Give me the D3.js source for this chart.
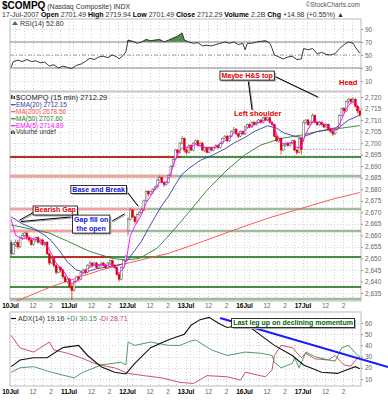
<!DOCTYPE html>
<html>
<head>
<meta charset="utf-8">
<script src="https://cdn.jsdelivr.net/npm/d3@7/dist/d3.min.js"></script>
<style>
body { margin: 0; background: #fff; }
text { font-family: "Liberation Sans", Arial, sans-serif; }
</style>
</head>
<body>
<svg id="chart" width="388" height="400"></svg>
<script>
// ---------------- data ----------------
var xTicks = [0, 10, 18, 26, 36, 44, 52, 62, 70, 78, 88, 96, 104, 114, 122, 130, 140, 148];
var xTickLabels = ["10Jul", "12", "2", "11Jul", "12", "2", "12Jul", "12", "2", "13Jul", "12", "2", "16Jul", "12", "2", "17Jul", "12", "2"];

// 15 min bars, 26 per day
var opens = [
 2657,2652,2656,2657,2655,2659,2660,2661,2659,2658,2656,2658,2659,2657,2658,2656,2657,2652,2648,2650,2647,2644,2646,2645,2642,2640,
 2641,2638,2636,2640,2642,2641,2644,2645,2644,2647,2648,2647,2648,2646,2647,2648,2647,2646,2648,2649,2647,2646,2643,2641,2646,2649,
 2662,2667,2671,2668,2666,2669,2670,2671,2675,2679,2678,2679,2680,2681,2684,2685,2683,2682,2683,2686,2690,2693,2697,2696,2700,2702,
 2697,2696,2699,2697,2700,2701,2699,2700,2697,2698,2696,2698,2697,2698,2699,2698,2700,2702,2703,2701,2703,2705,2706,2704,2703,2705,
 2704,2707,2708,2707,2709,2708,2709,2710,2709,2711,2710,2711,2709,2708,2703,2701,2702,2697,2699,2700,2699,2700,2701,2697,2696,2702,
 2701.49,2709,2710,2708,2709,2712,2709,2708,2709,2708,2707,2708,2706,2705,2704,2706,2707,2712,2715,2714,2718,2719,2718,2719,2716,2714];
var highs = [
 2658,2657,2658,2658,2659.5,2661,2661.5,2661.5,2660,2659,2658.5,2659.5,2659.5,2658.5,2658.5,2657.5,2657.5,2652.5,2650.5,2650.5,2647.5,2646.5,2646.5,2645.5,2643,2641.5,
 2641.5,2639,2640.5,2642.5,2642.5,2644.5,2645.5,2645.5,2647.5,2649,2648.5,2648.5,2648.5,2647.5,2648.5,2648.5,2647.5,2648.5,2649.5,2649.5,2647.5,2646.5,2643.5,2646.5,2649.5,2651.5,
 2668,2672,2671.5,2668.5,2669.5,2670.5,2672,2675.5,2679.5,2679.5,2679.5,2680.5,2681.5,2684.5,2686,2685.5,2683.5,2683.5,2686.5,2690.5,2693.5,2697.5,2697.5,2700.5,2703,2702.5,
 2698,2699.5,2699.5,2700.5,2701.5,2701.5,2700.5,2700.5,2698.5,2698.5,2698.5,2698.5,2698.5,2699.5,2699.5,2700.5,2702.5,2703.5,2703.5,2703.5,2705.5,2707,2706.5,2704.5,2705.5,2705.5,
 2707.5,2708.5,2708.5,2709.5,2709.5,2709.5,2710.5,2710.5,2711.5,2711.5,2711.5,2711.5,2709.5,2708.5,2703.5,2702.5,2702.5,2699.5,2700.5,2700.5,2700.5,2701.5,2701.5,2697.5,2702.5,2702.5,
 2710,2710.5,2710.5,2709.5,2713,2712.5,2709.5,2709.5,2709.5,2708.5,2708.5,2708.5,2706.5,2705.5,2706.5,2707.5,2712.5,2715.5,2715.5,2718.5,2719.5,2719.5,2719.94,2719.5,2716.5,2714.5];
var lows = [
 2651,2651.5,2655,2654,2654.5,2658,2659,2658,2657,2655.5,2655.5,2657,2656.5,2656,2655.5,2655,2651.5,2647,2647.5,2646,2643,2643.5,2644,2641,2639.5,2639,
 2637,2632,2635.5,2639.5,2640,2640.5,2643,2643,2643.5,2646,2646,2646.5,2645.5,2645.5,2646.5,2646.5,2645.5,2645.5,2647.5,2646.5,2645.5,2642.5,2640,2640.5,2645.5,2648.5,
 2660,2666.5,2667.5,2665,2665.5,2668.5,2669.5,2670.5,2674.5,2677,2677.5,2678,2679.5,2680.5,2683.5,2682.5,2681,2681.5,2682.5,2685.5,2689.5,2692.5,2695,2695.5,2699.5,2696,
 2695,2695.5,2696.5,2696.5,2699.5,2698.5,2698.5,2696.5,2696,2695.5,2695.5,2696.5,2696.5,2697.5,2697.5,2697.5,2699.5,2701.5,2700.5,2700.5,2702.5,2704.5,2703.5,2702,2702.5,2703.5,
 2703.5,2706.5,2706.5,2706.5,2707.5,2707.5,2708.5,2708.5,2708.5,2709.5,2709.5,2708.5,2707.5,2702.5,2700.5,2700,2695,2696.5,2698.5,2698.5,2698.5,2699.5,2696.5,2695,2695.5,2695,
 2700.5,2708,2707.5,2707.5,2708.5,2708.5,2707.5,2707.5,2707.5,2706.5,2706.5,2705.5,2704.5,2703,2703.5,2705.5,2706.5,2711.5,2713,2713.5,2717,2717,2717.5,2715.5,2713,2711.5];
var closes = [
 2652,2656,2657,2655,2659,2660,2661,2659,2658,2656,2658,2659,2657,2658,2656,2657,2652,2648,2650,2647,2644,2646,2645,2642,2640,2641,
 2638,2636,2640,2642,2641,2644,2645,2644,2647,2648,2647,2648,2646,2647,2648,2647,2646,2648,2649,2647,2646,2643,2641,2646,2649,2651,
 2667,2671,2668,2666,2669,2670,2671,2675,2679,2678,2679,2680,2681,2684,2685,2683,2682,2683,2686,2690,2693,2697,2696,2700,2702,2697,
 2696,2699,2697,2700,2701,2699,2700,2697,2698,2696,2698,2697,2698,2699,2698,2700,2702,2703,2701,2703,2705,2706,2704,2703,2705,2704,
 2707,2708,2707,2709,2708,2709,2710,2709,2711,2710,2711,2709,2708,2703,2701,2702,2697,2699,2700,2699,2700,2701,2697,2696,2702,2697.31,
 2709,2710,2708,2709,2712,2709,2708,2709,2708,2707,2708,2706,2705,2704,2706,2707,2712,2715,2714,2718,2719,2718,2719,2716,2714,2712.29];

// overlays: [bar, value]
var ema5 = [[0,2667],[2,2660],[5,2658.5],[8,2659],[11,2658.3],[14,2657.3],[16,2655.5],[18,2652],[20,2648],[23,2645],[25,2642],[27,2639],[29,2640],[31,2642.5],[34,2645.5],[37,2647.3],[40,2647.3],[43,2647],[45,2647.5],[48,2643.5],[50,2646],[51,2648],[52,2654],[53,2660],[55,2664],[58,2669],[60,2674],[63,2678.5],[66,2683],[69,2683],[71,2687],[73,2693],[75,2697],[77,2698.5],[79,2698],[82,2699.5],[85,2698.5],[88,2697.5],[91,2698.3],[94,2700.5],[97,2702],[99,2704.5],[101,2704],[103,2704.5],[105,2706.5],[108,2708],[111,2709.3],[114,2710.3],[116,2709],[118,2704],[120,2700],[122,2699.5],[125,2700.3],[127,2698],[129,2698.5],[130,2702],[132,2706],[134,2709.5],[137,2709],[140,2708],[143,2705.5],[145,2706],[147,2710.5],[149,2715],[151,2717.5],[153,2717.5],[155,2714.89]];
var ema20 = [[0,2668],[5,2665],[10,2663],[15,2660],[18,2657.5],[21,2654],[25,2648.5],[29,2645],[33,2644],[38,2645.5],[44,2646.5],[49,2647.5],[52,2649.5],[55,2653.5],[58,2657.5],[61,2663],[64,2668],[67,2673],[70,2677],[73,2682],[76,2686.5],[79,2689],[84,2692.5],[90,2695],[95,2697.5],[99,2700],[104,2702.5],[108,2705],[114,2707.5],[118,2706.5],[121,2704.5],[126,2703],[129,2702.5],[132,2703.5],[136,2705],[141,2706],[146,2707],[150,2710],[155,2712.15]];
var ma50 = [[0,2664.5],[10,2662.5],[17,2661],[25,2657.5],[35,2653],[45,2650],[51,2649.3],[57,2650],[65,2654.5],[72,2662],[79,2670],[87,2679.5],[96,2688.4],[104,2695],[111,2699.2],[120,2702],[129,2703.5],[136,2705],[143,2706],[149,2706.8],[155,2707.6]];
var ma200 = [[0,2630.5],[18,2637.8],[40,2645],[52,2648],[70,2652.2],[85,2657.3],[99,2662.3],[114,2667.4],[129,2671.7],[144,2676],[155,2678.56]];
var maNames = ["EMA(20)", "MA(200)", "MA(50)", "EMA(5)"];
var maLast = ["2712.15", "2678.56", "2707.60", "2714.89"];

var rsi = [[0,31],[1,40],[3,42],[5,40],[7,43],[9,40],[11,41],[13,38],[15,39],[17,33],[19,35],[21,30],[23,33],[25,31],[27,29],[29,34],[31,36],[33,40],[35,45],[37,43],[39,47],[41,48],[43,46],[45,50],[47,47],[48,44],[50,50],[51,55],[52,73],[54,71],[56,68],[58,70],[60,74],[62,72],[64,73],[66,74],[68,70],[70,73],[72,76],[74,79],[76,84],[77,73],[79,70],[81,68],[83,69],[85,64],[87,65],[89,64],[91,66],[93,68],[95,70],[97,68],[99,70],[101,66],[103,68],[104,58],[105,68],[107,68],[109,70],[111,71],[113,72],[115,68],[116,60],[117,50],[119,47],[121,44],[123,47],[125,48],[127,43],[129,44],[130,60],[132,58],[134,60],[136,52],[138,54],[140,51],[142,50],[144,52],[146,60],[148,66],[150,70],[152,68],[153,62],[155,52.8]];
var adx = [[0,21],[4,27],[10,29],[16,29],[23,38],[30,40],[34,31],[40,21],[46,16],[51,14.5],[55,24],[62,38],[70,45],[77,50],[80,58],[84,63],[88,65],[92,60],[96,56],[102,58],[107,55],[111,49],[117,40],[125,31],[130,22.5],[138,16],[145,15],[149,18],[153,21],[155,19.16]];
var plusDI = [[0,16],[4,20],[10,21],[18,16],[28,11],[32,16],[40,22.5],[49,25],[51,22.5],[52,43],[55,40],[62,43],[70,40],[75,40],[80,44],[82,45],[89,36],[96,31],[104,34],[111,33],[116,31],[117,25],[120,20],[125,24],[126,29],[128,20],[131,34],[135,30],[141,27],[144,26],[147,38],[150,40],[154,31],[155,30.15]];
var minusDI = [[0,49],[4,37.7],[10,34],[17,43],[19,36],[25,33],[31,29],[37,24],[43,21],[46,20],[52,15],[59,13],[67,11],[75,7],[81,6],[87,13],[96,12],[102,9],[104,16],[113,12],[116,18],[117,31],[120,40],[125,38],[129,29],[131,33],[135,28],[141,27],[144,31],[148,22.5],[151,21.5],[154,29],[155,28.71]];

// support / resistance levels drawn on the chart
var levelPrice = [2694.0, 2685.7, 2671.4, 2661.9, 2650.6, 2637.6, 2632.4];
var levelRedFrom = [0, 0, 0, 0, 17.5, -1, -1];     // bar span where the level is drawn red
var levelRedTo = [75.5, 72.5, 61, 52, 44.4, -1, -1];
var levelStrong = [true, false, false, false, true, true, false];

// ---------------- layout ----------------
var svg = d3.select("#chart");
var plotL = 10, plotR = 361;
var x = d3.scaleLinear().domain([0, 156]).range([plotL, plotR]);
function cx(i) { return x(i) + 1.1; }

var rsiPanel = {top: 19, bottom: 91};
var mainPanel = {top: 92, bottom: 301};
var adxPanel = {top: 312, bottom: 386};

var rsiY = d3.scaleLinear().domain([10, 90]).range([81, 29]);
var priceY = d3.scaleLinear().domain([2635, 2720]).range([293, 97]);
var adxY = d3.scaleLinear().domain([10, 60]).range([379, 323]);

var hourBars = [0, 2, 6, 10, 14, 18, 22];
var gridX = [];
for (var d = 0; d < 6; d++) hourBars.forEach(function(h) { gridX.push(d * 26 + h); });

function panel(p, id, yScale, yTicks) {
	svg.append("clipPath").attr("id", id)
		.append("rect").attr("x", plotL).attr("y", p.top).attr("width", plotR - plotL).attr("height", p.bottom - p.top);
	var g = svg.append("g");
	g.append("rect").attr("x", plotL).attr("y", p.top).attr("width", plotR - plotL).attr("height", p.bottom - p.top)
		.attr("fill", "#fff").attr("stroke", "#aaa").attr("stroke-width", 0.8);
	g.selectAll(".gx").data(gridX).enter().append("line")
		.attr("x1", function(d) { return Math.round(x(d)) + 0.5; }).attr("x2", function(d) { return Math.round(x(d)) + 0.5; })
		.attr("y1", p.top).attr("y2", p.bottom)
		.attr("stroke", "#d4d4d4").attr("stroke-width", 1).attr("stroke-dasharray", "1,2");
	g.selectAll(".gy").data(yTicks).enter().append("line")
		.attr("x1", plotL).attr("x2", plotR)
		.attr("y1", function(d) { return Math.round(yScale(d)) + 0.5; }).attr("y2", function(d) { return Math.round(yScale(d)) + 0.5; })
		.attr("stroke", "#d4d4d4").attr("stroke-width", 1).attr("stroke-dasharray", "1,2");
	var ax = svg.append("g").attr("transform", "translate(" + plotR + ",0)")
		.call(d3.axisRight(yScale).tickValues(yTicks).tickSize(2).tickPadding(2));
	ax.select(".domain").remove();
	ax.selectAll("line").attr("stroke", "#999");
	ax.selectAll("text").attr("fill", "#666").style("font-size", "6.5px").style("font-family", "Liberation Sans, Arial");
	return svg.append("g").attr("clip-path", "url(#" + id + ")");
}

function xAxis(yPos) {
	var ax = svg.append("g").attr("transform", "translate(0," + yPos + ")")
		.call(d3.axisBottom(x).tickValues(xTicks).tickSize(0).tickPadding(0)
			.tickFormat(function(d, i) { return xTickLabels[i]; }));
	ax.select(".domain").remove();
	ax.selectAll("text")
		.style("font-family", "Liberation Sans, Arial")
		.style("font-size", "6.5px")
		.attr("fill", function(d, i) { return xTickLabels[i].indexOf("Jul") > 0 ? "#000" : "#666"; })
		.style("font-weight", function(d, i) { return xTickLabels[i].indexOf("Jul") > 0 ? "bold" : "normal"; });
}

function seriesLine(g, pts, yScale, color, w) {
	g.append("path").datum(pts)
		.attr("d", d3.line().x(function(d) { return cx(d[0]); }).y(function(d) { return yScale(d[1]); }))
		.attr("fill", "none").attr("stroke", color).attr("stroke-width", w);
}

// ---------------- header ----------------
var t1 = svg.append("text").attr("x", 2).attr("y", 9);
t1.append("tspan").text("$COMPQ").style("font-weight", "bold").style("font-size", "10px");
t1.append("tspan").text(" (Nasdaq Composite) INDX").style("font-size", "7px").attr("fill", "#333");
svg.append("text").attr("x", 360).attr("y", 7).attr("text-anchor", "end")
	.style("font-size", "6.5px").attr("fill", "#555").text("\u00a9StockCharts.com");

var hdrParts = [["17-Jul-2007  ", 0], ["Open ", 1], ["2701.49 ", 0], ["High ", 1], ["2719.94 ", 0], ["Low ", 1], ["2701.49 ", 0],
	["Close ", 1], ["2712.29 ", 0], ["Volume ", 1], ["2.2B ", 0], ["Chg ", 1], ["+14.98 (+0.55%) \u25b2", 0]];
var t2 = svg.append("text").attr("x", 2).attr("y", 17).style("font-size", "7px");
hdrParts.forEach(function(p) {
	t2.append("tspan").text(p[0]).style("font-weight", p[1] ? "bold" : "normal").attr("fill", p[1] ? "#000" : "#333");
});

// ---------------- RSI panel ----------------
var gr = panel(rsiPanel, "clipRsi", rsiY, [10, 30, 50, 70, 90]);
gr.append("path").datum(rsi)
	.attr("d", d3.area().x(function(d) { return cx(d[0]); }).y0(rsiY(70)).y1(function(d) { return rsiY(Math.max(70, d[1])); }))
	.attr("fill", "#4f8f4f");
[70, 30].forEach(function(v) {
	gr.append("line").attr("x1", plotL).attr("x2", plotR).attr("y1", rsiY(v)).attr("y2", rsiY(v)).attr("stroke", "#888").attr("stroke-width", 1);
});
gr.append("line").attr("x1", plotL).attr("x2", plotR).attr("y1", rsiY(50)).attr("y2", rsiY(50))
	.attr("stroke", "#888").attr("stroke-width", 0.8).attr("stroke-dasharray", "4,2,1,2");
seriesLine(gr, rsi, rsiY, "#222", 0.9);
svg.append("path").attr("d", "M12,25 L15,21 L18,25 Z").attr("fill", "#3c7a3c");
svg.append("text").attr("x", 20).attr("y", 25.5).style("font-size", "7px").attr("fill", "#333").text("RSI(14) 52.80");

// ---------------- price panel ----------------
var gm = panel(mainPanel, "clipMain", priceY, d3.range(2635, 2721, 5));

levelPrice.forEach(function(p, k) {
	var yy = priceY(p);
	var w = levelStrong[k] ? 1.6 : 2.6;
	var red = levelStrong[k] ? "#e01010" : "#f0a0a0";
	var green = levelStrong[k] ? "#0a6a0a" : "#9dbb9d";
	gm.append("line").attr("x1", plotL).attr("x2", plotR).attr("y1", yy).attr("y2", yy).attr("stroke", green).attr("stroke-width", w);
	if (levelRedFrom[k] >= 0)
		gm.append("line").attr("x1", levelRedFrom[k] > 0 ? cx(levelRedFrom[k]) : plotL).attr("x2", cx(levelRedTo[k]))
			.attr("y1", yy).attr("y2", yy).attr("stroke", red).attr("stroke-width", w);
});
// previous close marker
gm.append("line").attr("x1", cx(127.5)).attr("x2", plotR).attr("y1", priceY(closes[129])).attr("y2", priceY(closes[129]))
	.attr("stroke", "#a060a0").attr("stroke-width", 0.8).attr("stroke-dasharray", "1.5,1.5");

seriesLine(gm, ma200, priceY, "#ff4a4a", 0.9);
seriesLine(gm, ma50, priceY, "#2e7d2e", 0.9);
seriesLine(gm, ema20, priceY, "#3a3aa8", 0.9);

var bars = d3.range(opens.length);
function barColor(i) { return (i > 0 && closes[i] < closes[i - 1]) ? "#dd0000" : "#555"; }
gm.selectAll(".wick").data(bars).enter().append("line")
	.attr("x1", function(i) { return cx(i); }).attr("x2", function(i) { return cx(i); })
	.attr("y1", function(i) { return priceY(highs[i]); }).attr("y2", function(i) { return priceY(lows[i]); })
	.attr("stroke", barColor).attr("stroke-width", 0.7);
gm.selectAll(".body").data(bars).enter().append("rect")
	.attr("x", function(i) { return cx(i) - 0.9; }).attr("width", 1.8)
	.attr("y", function(i) { return priceY(Math.max(opens[i], closes[i])); })
	.attr("height", function(i) { return Math.max(0.8, Math.abs(priceY(opens[i]) - priceY(closes[i]))); })
	.attr("fill", function(i) { return closes[i] > opens[i] ? "#fff" : barColor(i); })
	.attr("stroke", barColor).attr("stroke-width", 0.5);

seriesLine(gm, ema5, priceY, "#ff00ff", 0.9);

// legend
var lg = svg.append("g");
lg.append("text").attr("x", 16).attr("y", 100).style("font-size", "7.5px").attr("fill", "#222").text("$COMPQ (15 min) 2712.29");
lg.append("rect").attr("x", 11).attr("y", 95).attr("width", 1.5).attr("height", 4).attr("fill", "#333");
lg.append("rect").attr("x", 13.5).attr("y", 96).attr("width", 1.5).attr("height", 3).attr("fill", "#333");
var maColors = ["#3a3aa8", "#ff4a4a", "#2e7d2e", "#ff00ff"];
maNames.forEach(function(n, k) {
	var yy = 107 + k * 7;
	lg.append("line").attr("x1", 11).attr("x2", 15.5).attr("y1", yy - 2.3).attr("y2", yy - 2.3).attr("stroke", maColors[k]).attr("stroke-width", 1.2);
	lg.append("text").attr("x", 16).attr("y", yy).style("font-size", "6.5px").attr("fill", maColors[k]).text(n + " " + maLast[k]);
});
lg.append("rect").attr("x", 11).attr("y", 131).attr("width", 1).attr("height", 3).attr("fill", "#333");
lg.append("rect").attr("x", 12.5).attr("y", 130).attr("width", 1).attr("height", 4).attr("fill", "#333");
lg.append("rect").attr("x", 14).attr("y", 131.5).attr("width", 1).attr("height", 2.5).attr("fill", "#333");
lg.append("text").attr("x", 16).attr("y", 134).style("font-size", "6.5px").attr("fill", "#333").text("Volume undef");

xAxis(303);

// ---------------- ADX panel ----------------
var ga = panel(adxPanel, "clipAdx", adxY, [10, 20, 30, 40, 50, 60]);
seriesLine(ga, minusDI, adxY, "#c4405a", 0.9);
seriesLine(ga, plusDI, adxY, "#3f8f55", 0.9);
seriesLine(ga, adx, adxY, "#111", 1.1);
var t4 = svg.append("text").attr("x", 18).attr("y", 321).style("font-size", "7px");
svg.append("line").attr("x1", 11).attr("x2", 16).attr("y1", 318.5).attr("y2", 318.5).attr("stroke", "#111").attr("stroke-width", 1.2);
t4.append("tspan").text("ADX(14) 19.16 ").attr("fill", "#333");
t4.append("tspan").text("+DI 30.15 ").attr("fill", "#3f8f55");
t4.append("tspan").text("-DI 28.71").attr("fill", "#c4405a");
xAxis(389);

// ---------------- annotations ----------------
function callout(i1, v1, i2, v2, ys) {
	svg.append("line").attr("x1", cx(i1) + 1).attr("y1", ys(v1) + 1).attr("x2", cx(i2) + 1).attr("y2", ys(v2) + 1)
		.attr("stroke", "#999").attr("stroke-width", 1);
	svg.append("line").attr("x1", cx(i1)).attr("y1", ys(v1)).attr("x2", cx(i2)).attr("y2", ys(v2))
		.attr("stroke", "#000").attr("stroke-width", 1);
}
function noteBox(lines, i, v, ys, color) {
	var g = svg.append("g");
	var t = g.append("text").attr("text-anchor", "middle").style("font-size", "7px").style("font-weight", "bold").attr("fill", color);
	lines.forEach(function(s, k) {
		t.append("tspan").attr("x", cx(i)).attr("y", ys(v) + 2.5 + (k - (lines.length - 1) / 2) * 9).text(s);
	});
	var bb = t.node().getBBox();
	g.insert("rect", "text").attr("x", bb.x - 1.5).attr("y", bb.y - 0.5).attr("width", bb.width + 3).attr("height", bb.height + 1)
		.attr("fill", "#fff").attr("stroke", "#000").attr("stroke-width", 0.8);
	g.insert("rect", "rect").attr("x", bb.x).attr("y", bb.y + 1).attr("width", bb.width + 3).attr("height", bb.height + 1)
		.attr("fill", "#aaa");
}
function noteText(s, i, v, ys, color) {
	svg.append("text").attr("x", cx(i)).attr("y", ys(v)).attr("text-anchor", "middle")
		.style("font-size", "7.5px").style("font-weight", "bold").attr("fill", color).text(s);
}

callout(9.8, 2669.9, 3.6, 2666.5, priceY);
callout(26.7, 2668.0, 4.4, 2666.0, priceY);
callout(44.9, 2666.2, 50.4, 2669.3, priceY);
callout(51.6, 2678.8, 56.4, 2672.7, priceY);
callout(105.3, 2727.8, 107.1, 2714.4, priceY);
callout(116.9, 2729.1, 136.4, 2720.0, priceY);

noteBox(["Bearish Gap"], 19.6, 2671.0, priceY, "#e00000");
noteBox(["Gap fill on", "the open"], 35.6, 2665.1, priceY, "#1010e0");
noteBox(["Base and Break"], 38.9, 2679.9, priceY, "#1010e0");
noteBox(["Maybe H&S top"], 104.9, 2729.5, priceY, "#e00000");
noteText("Left shoulder", 109.6, 2711.8, priceY, "#e00000");
noteText("Head", 149.8, 2725.2, priceY, "#e00000");

svg.append("line").attr("x1", cx(92.9)).attr("y1", adxY(64.5)).attr("x2", 388).attr("y2", adxY(20.7))
	.attr("stroke", "#1a1aff").attr("stroke-width", 2);
noteBox(["Last leg up on declining momentum"], 125.3, 60.4, adxY, "#006600");
</script>
</body>
</html>
